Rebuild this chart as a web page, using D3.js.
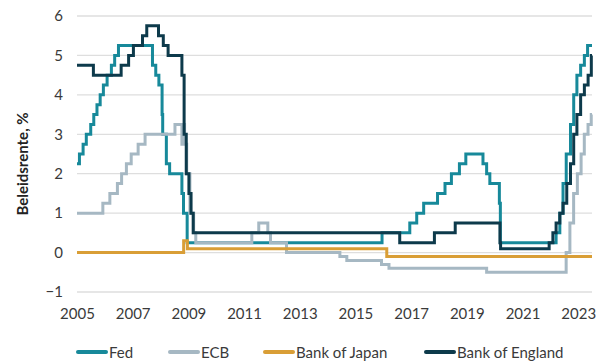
<!DOCTYPE html>
<html><head><meta charset="utf-8">
<script src="https://cdn.jsdelivr.net/npm/d3@7"></script>
<style>
html,body{margin:0;padding:0;background:#fff;}
svg{display:block;font-family:Lato,"Open Sans",sans-serif;}
</style></head>
<body><svg id="c" width="603" height="362"></svg>
<script>
// ---- data (change dates and rate levels, %) ----
const endDate = "2023-07-01";
const fed = [
["2005-01-01",2.25],["2005-02-02",2.5],["2005-03-22",2.75],["2005-05-03",3.0],["2005-06-30",3.25],
["2005-08-09",3.5],["2005-09-20",3.75],["2005-11-01",4.0],["2005-12-13",4.25],["2006-01-31",4.5],
["2006-03-28",4.75],["2006-05-10",5.0],["2006-06-29",5.25],["2007-09-18",4.75],["2007-10-31",4.5],
["2007-12-11",4.25],["2008-01-22",3.5],["2008-01-30",3.0],["2008-03-18",2.25],["2008-04-30",2.0],
["2008-10-08",1.5],["2008-10-29",1.0],["2008-12-16",0.25],["2015-12-16",0.5],["2016-12-14",0.75],
["2017-03-15",1.0],["2017-06-14",1.25],["2017-12-13",1.5],["2018-03-21",1.75],["2018-06-13",2.0],
["2018-09-26",2.25],["2018-12-19",2.5],["2019-08-01",2.25],["2019-09-18",2.0],["2019-10-30",1.75],
["2020-03-03",1.25],["2020-03-16",0.25],["2022-03-17",0.5],["2022-05-05",1.0],["2022-06-16",1.75],
["2022-07-28",2.5],["2022-09-22",3.25],["2022-11-03",4.0],["2022-12-15",4.5],["2023-02-02",4.75],
["2023-03-23",5.0],["2023-05-04",5.25]];
const ecb = [
["2005-01-01",1.0],["2005-12-06",1.25],["2006-03-08",1.5],["2006-06-15",1.75],["2006-08-09",2.0],
["2006-10-11",2.25],["2006-12-13",2.5],["2007-03-14",2.75],["2007-06-13",3.0],["2008-07-09",3.25],
["2008-10-08",2.75],["2008-10-09",3.25],["2008-11-12",2.75],["2008-12-10",2.0],["2009-01-21",1.0],
["2009-03-11",0.5],["2009-04-08",0.25],["2011-04-13",0.5],["2011-07-13",0.75],["2011-11-09",0.5],
["2011-12-14",0.25],["2012-07-11",0.0],["2014-06-11",-0.1],["2014-09-10",-0.2],["2015-12-09",-0.3],
["2016-03-16",-0.4],["2019-09-18",-0.5],["2022-07-27",0.0],["2022-09-14",0.75],["2022-11-02",1.5],
["2022-12-21",2.0],["2023-02-08",2.5],["2023-03-22",3.0],["2023-05-10",3.25],["2023-06-21",3.5]];
const boj = [
["2005-01-01",0.0],["2008-10-31",0.3],["2008-12-19",0.1],["2016-02-16",-0.1]];
const boe = [
["2005-01-01",4.75],["2005-08-04",4.5],["2006-08-03",4.75],["2006-11-09",5.0],["2007-01-11",5.25],
["2007-05-10",5.5],["2007-07-05",5.75],["2007-12-06",5.5],["2008-02-07",5.25],["2008-04-10",5.0],
["2008-10-08",4.5],["2008-11-06",3.0],["2008-12-04",2.0],["2009-01-08",1.5],["2009-02-05",1.0],
["2009-03-05",0.5],["2016-08-04",0.25],["2017-11-02",0.5],["2018-08-02",0.75],["2020-03-11",0.25],
["2020-03-19",0.1],["2021-12-16",0.25],["2022-02-03",0.5],["2022-03-17",0.75],["2022-05-05",1.0],
["2022-06-16",1.25],["2022-08-04",1.75],["2022-09-22",2.25],["2022-11-03",3.0],["2022-12-15",3.5],
["2023-02-02",4.0],["2023-03-23",4.25],["2023-05-11",4.5],["2023-06-22",5.0]];
const seriesNames = ["Fed","ECB","Bank of Japan","Bank of England"];
const seriesColors = ["#17899a","#a6b8c3","#d99e36","#0d3a4b"];
const yTicks = [-1,0,1,2,3,4,5,6];
const xTickYears = [2005,2007,2009,2011,2013,2015,2017,2019,2021,2023];
const yTitle = "Beleidsrente, %";

// ---- chart ----
const parse = d3.timeParse("%Y-%m-%d");
const svg = d3.select("#c");
const x = d3.scaleTime().domain([parse("2005-01-01"), parse(endDate)]).range([77, 592]);
const y = d3.scaleLinear().domain([-1, 6]).range([292, 16]);
const txt = "#3a3a3a";

// gridlines
svg.append("g").selectAll("line").data(yTicks).join("line")
  .attr("x1", 77).attr("x2", 592)
  .attr("y1", d => y(d)).attr("y2", d => y(d))
  .attr("stroke", "#dedede").attr("stroke-width", 1.3);

// y axis labels
const ya = svg.append("g").attr("transform", "translate(77,0)")
  .call(d3.axisLeft(y).tickValues(yTicks).tickSize(0).tickPadding(14).tickFormat(d3.format("d")));
ya.select(".domain").remove();
ya.selectAll("text").attr("font-size", 15).attr("fill", txt).attr("font-family", "Lato");

// x axis labels
const xa = svg.append("g").attr("transform", "translate(0,302)")
  .call(d3.axisBottom(x).tickValues(xTickYears.map(yr => new Date(yr, 0, 1)))
    .tickSize(0).tickPadding(6).tickFormat(d3.timeFormat("%Y")));
xa.select(".domain").remove();
xa.selectAll("text").attr("font-size", 15).attr("fill", txt).attr("font-family", "Lato");

// y title
svg.append("text").attr("transform", "translate(28,164) rotate(-90)")
  .attr("text-anchor", "middle").attr("font-size", 15).attr("font-weight", "bold")
  .attr("fill", "#222").text(yTitle);

// lines
const line = d3.line().x(d => x(d[0])).y(d => y(d[1])).curve(d3.curveStepAfter);
const all = [fed, ecb, boj, boe];
all.forEach((s, i) => {
  const pts = s.map(d => [parse(d[0]), d[1]]);
  pts.push([parse(endDate), s[s.length - 1][1]]);
  svg.append("path").datum(pts).attr("d", line)
    .attr("fill", "none").attr("stroke", seriesColors[i]).attr("stroke-width", 3);
});

// legend
const legX = [76, 168, 263, 424];
const lg = svg.append("g");
seriesNames.forEach((n, i) => {
  lg.append("line").attr("x1", legX[i] + 2).attr("x2", legX[i] + 30)
    .attr("y1", 352).attr("y2", 352)
    .attr("stroke", seriesColors[i]).attr("stroke-width", 4).attr("stroke-linecap", "round");
  lg.append("text").attr("x", legX[i] + 33).attr("y", 357.5)
    .attr("font-size", 15).attr("fill", txt).text(n);
});
</script></body></html>
